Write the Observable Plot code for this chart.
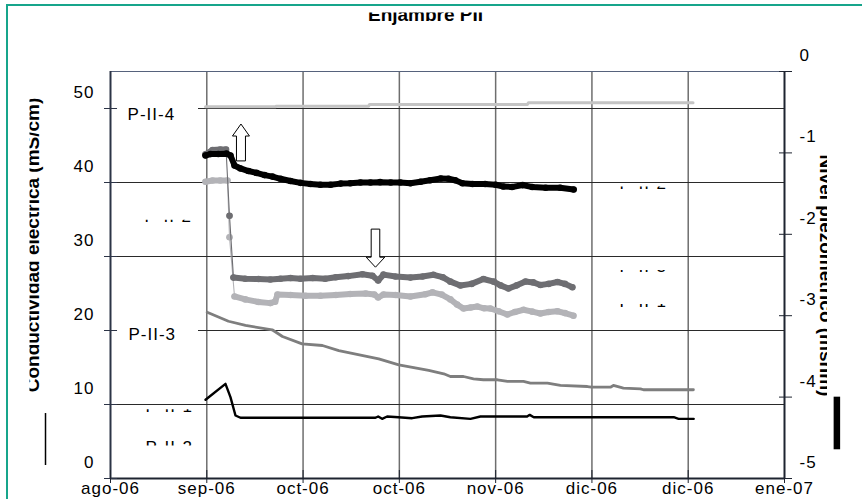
<!DOCTYPE html>
<html><head><meta charset="utf-8">
<script src="https://cdn.jsdelivr.net/npm/d3@7"></script>
<script src="https://cdn.jsdelivr.net/npm/@observablehq/plot@0.6"></script>
<style>
html,body{margin:0;padding:0;background:#fff;overflow:hidden}
#wrap{position:relative;width:862px;height:499px;overflow:hidden}
#wrap svg{position:absolute;left:0;top:0}
#border{position:absolute;left:6px;top:4px;width:900px;height:600px;border-left:2px solid #17a58b;border-top:2px solid #17a58b;pointer-events:none}
svg text{letter-spacing:1px}
</style></head><body><div id="wrap"><div id="border"></div></div>
<script>
// ---- axes / tick labels ----
const xLabels = ["ago-06","sep-06","oct-06","oct-06","nov-06","dic-06","dic-06","ene-07"];
const xTicks = xLabels.map((_, i) => i);
const leftTicks = [0, 10, 20, 30, 40, 50];
const rightTicks = [0, -1, -2, -3, -4, -5];
const leftMax = 55;      // top of left axis corresponds to 0 on right axis
const rightMin = -5;     // bottom of right axis corresponds to 0 on left axis
const toLeft = r => leftMax * (1 - r / rightMin);

const chartTitle = "Enjambre PII";
const leftTitle = "Conductividad eléctrica (mS/cm)";
const rightTitle = "Nivel piezométrico (msnm)";

// ---- conductivity series (left axis), x in axis-tick units ----
const condBlack = [[0.987,43.65],[1.04,43.85],[1.12,43.85],[1.205,43.9],[1.246,43.65],[1.288,42.3],[1.35,41.9],[1.433,41.55],[1.516,41.3],[1.6,41.0],[1.682,40.8],[1.765,40.5],[1.869,40.2],[1.973,39.95],[2.077,39.8],[2.18,39.7],[2.285,39.7],[2.39,39.85],[2.49,39.9],[2.596,40.0],[2.7,40.0],[2.8,40.05],[2.91,40.0],[3.01,40.0],[3.115,39.9],[3.22,40.1],[3.32,40.3],[3.43,40.55],[3.51,40.5],[3.58,40.3],[3.655,39.9],[3.76,39.8],[3.89,39.8],[4.0,39.7],[4.08,39.45],[4.17,39.4],[4.28,39.65],[4.38,39.4],[4.52,39.3],[4.67,39.3],[4.81,39.05]];
const condMid = [[0.987,43.8],[1.06,44.4],[1.14,44.45],[1.2,44.45],[1.236,35.5],[1.277,27.15],[1.4,27.0],[1.537,26.95],[1.66,26.9],[1.765,27.0],[1.87,27.1],[1.973,27.0],[2.1,27.1],[2.23,27.0],[2.34,27.2],[2.47,27.35],[2.617,27.6],[2.72,27.4],[2.78,26.75],[2.835,27.55],[2.96,27.3],[3.115,27.15],[3.24,27.3],[3.354,27.53],[3.45,27.2],[3.53,26.6],[3.634,26.08],[3.75,26.3],[3.873,26.96],[3.98,26.6],[4.05,26.1],[4.133,25.68],[4.22,26.1],[4.31,26.62],[4.39,26.5],[4.465,26.15],[4.55,26.3],[4.642,26.55],[4.72,26.3],[4.797,25.85]];
const condLight = [[0.987,40.1],[1.06,40.27],[1.14,40.27],[1.215,40.27],[1.236,32.6],[1.288,24.6],[1.4,24.2],[1.537,23.85],[1.66,23.7],[1.71,23.9],[1.734,24.85],[1.87,24.8],[2.025,24.7],[2.18,24.7],[2.34,24.8],[2.49,24.93],[2.65,25.0],[2.74,24.86],[2.78,24.46],[2.835,24.86],[2.96,24.8],[3.115,24.6],[3.27,24.9],[3.344,25.15],[3.44,24.85],[3.53,24.2],[3.6,23.5],[3.666,22.97],[3.74,23.1],[3.811,23.24],[3.88,23.0],[3.946,22.97],[4.03,22.6],[4.122,22.16],[4.2,22.5],[4.289,22.8],[4.38,22.55],[4.465,22.3],[4.55,22.5],[4.642,22.6],[4.72,22.35],[4.808,22.0]];

// ---- piezometric level series (right axis) ----
const levelP4 = [[0.987,-0.434],[1.713,-0.434],[1.72,-0.427],[2.68,-0.427],[2.69,-0.405],[4.33,-0.405],[4.34,-0.385],[6.05,-0.385]];
const levelP3 = [[1.004,-2.957],[1.225,-3.068],[1.402,-3.12],[1.679,-3.173],[1.786,-3.256],[1.99,-3.346],[2.201,-3.366],[2.371,-3.428],[2.786,-3.53],[2.994,-3.603],[3.305,-3.673],[3.461,-3.714],[3.53,-3.747],[3.666,-3.747],[3.77,-3.775],[3.873,-3.787],[4.019,-3.787],[4.123,-3.808],[4.289,-3.808],[4.361,-3.829],[4.538,-3.829],[4.673,-3.857],[4.953,-3.87],[4.995,-3.878],[5.192,-3.878],[5.223,-3.857],[5.327,-3.89],[5.504,-3.898],[5.535,-3.91],[6.054,-3.91]];
const levelP1 = [[0.987,-4.033],[1.194,-3.837],[1.246,-4.001],[1.298,-4.226],[1.35,-4.254],[2.752,-4.254],[2.78,-4.238],[2.821,-4.267],[2.873,-4.238],[2.99,-4.247],[3.133,-4.259],[3.237,-4.238],[3.427,-4.226],[3.53,-4.247],[3.738,-4.267],[3.842,-4.238],[4.327,-4.238],[4.354,-4.218],[4.396,-4.247],[5.85,-4.247],[5.9,-4.267],[6.057,-4.267]];

// ---- annotations (data units) ----
const seriesLabels = [{label:"P-II-4", t:0.177, v:48.5}, {label:"P-II-3", t:0.187, v:18.78}];
const labelBoxes = [{t1:0.073, t2:0.914, v1:47.6, v2:51.1}, {t1:0.073, t2:0.914, v1:17.84, v2:21.35}];
const hiddenLabels = ["P-II-2","P-II-1","P-II-2","P-II-2","P-II-3","P-II-1"];
const hiddenPos = [{t:0.353,v:34.6},{t:0.363,v:8.99},{t:0.363,v:3.49},{t:5.286,v:39.1},{t:5.286,v:27.84},{t:5.286,v:23.24}];
const hiddenShown = ["bottom","bottom","top","bottom","bottom","bottom"];
const upArrow = [{t:1.355, v:42.97}];
const downArrow = [{t:2.752, v:33.65}];
const legendBar = [{t:7.544, v1:10.99, v2:3.88}];
const legendLine = [{t:-0.675, v1:8.78, v2:1.76}];

// ---- build ----
const L = a => a.map(d => ({t: d[0], v: d[1]}));
const R = a => a.map(d => ({t: d[0], v: toLeft(d[1])}));
function segments(rows) { // break the thick chain where the series jumps
  let s = 0;
  return rows.map((d, i) => { if (i > 0 && Math.abs(d.v - rows[i-1].v) > 3) s++; return {...d, seg: s}; });
}
function blockArrow(bw, hw, hl) {
  return {draw(context, l) {
    context.moveTo(-bw, 0); context.lineTo(-bw, hl - l); context.lineTo(-hw, hl - l);
    context.lineTo(0, -l); context.lineTo(hw, hl - l); context.lineTo(bw, hl - l);
    context.lineTo(bw, 0); context.closePath();
  }};
}
function dotted(rows, color) {
  const s = segments(rows);
  return [
    Plot.line(s, {x: "t", y: "v", stroke: color, strokeWidth: 1.1}),
    Plot.line(s, {x: "t", y: "v", z: "seg", stroke: color, strokeWidth: 6, strokeLinecap: "round", strokeLinejoin: "round"}),
    Plot.dot(s, {x: "t", y: "v", r: 3.3, fill: color})
  ];
}
const hidden = hiddenLabels.map((label, i) => ({label, ...hiddenPos[i], shown: hiddenShown[i]}));
const font = "'Liberation Sans', Arial, sans-serif";
const fmtRight = d => String(Math.round(rightMin * (1 - d / leftMax)));

const chart = Plot.plot({
  width: 862, height: 499,
  marginLeft: 110, marginRight: 78, marginTop: 71, marginBottom: 21,
  style: {fontFamily: font, fontSize: "17px", color: "#000", background: "transparent", overflow: "visible"},
  x: {domain: [0, 7], axis: null},
  y: {domain: [0, leftMax], axis: null},
  marks: [
    Plot.ruleX(xTicks.slice(1, -1), {stroke: "#6e6e6e", strokeWidth: 1.5}),
    Plot.ruleY(leftTicks.slice(1), {stroke: "#2a2a2a", strokeWidth: 1.2}),
    Plot.rect(labelBoxes, {x1: "t1", x2: "t2", y1: "v1", y2: "v2", fill: "white"}),
    Plot.text(seriesLabels, {x: "t", y: "v", text: "label", textAnchor: "start", lineAnchor: "bottom", fontSize: 17, fill: "#000"}),
    Plot.text(hidden, {x: "t", y: "v", text: "label", textAnchor: "start", lineAnchor: "bottom", fontSize: 17, fill: "#000", ariaLabel: d => "hidden-" + d.shown}),
    Plot.line(R(levelP4), {x: "t", y: "v", stroke: "#c4c4c4", strokeWidth: 3}),
    Plot.line(R(levelP3), {x: "t", y: "v", stroke: "#7e7e7e", strokeWidth: 2.8}),
    Plot.line(R(levelP1), {x: "t", y: "v", stroke: "#000", strokeWidth: 2.4}),
    ...dotted(L(condLight), "#b3b3b7"),
    ...dotted(L(condMid), "#6e6e72"),
    ...dotted(L(condBlack), "#000"),
    Plot.vector(upArrow, {x: "t", y: "v", length: 36.5, rotate: 0, anchor: "start", shape: blockArrow(4.5, 8.5, 12), fill: "white", stroke: "#000", strokeWidth: 1}),
    Plot.vector(downArrow, {x: "t", y: "v", length: 37.7, rotate: 180, anchor: "start", shape: blockArrow(4.3, 9.3, 10), fill: "white", stroke: "#000", strokeWidth: 1}),
    Plot.ruleX(legendBar, {x: "t", y1: "v1", y2: "v2", stroke: "#000", strokeWidth: 6.5}),
    Plot.ruleX(legendLine, {x: "t", y1: "v1", y2: "v2", stroke: "#000", strokeWidth: 1.5}),
    // frame / axis lines
    Plot.ruleY([leftMax], {stroke: "#56627c", strokeWidth: 1}),
    Plot.ruleY([0], {stroke: "#1e2430", strokeWidth: 2}),
    Plot.ruleX([0], {stroke: "#2c3446", strokeWidth: 2}),
    Plot.ruleX([xTicks.length - 1], {stroke: "#1e2430", strokeWidth: 2}),
    // ticks
    Plot.axisY(leftTicks, {anchor: "left", tickSize: 13, dx: 7, tickFormat: () => "", label: null, stroke: "#2c3446"}),
    Plot.axisY(leftTicks, {anchor: "left", tickSize: 0, tickPadding: 16, dy: -16, fontSize: 17, label: null}),
    Plot.axisY(rightTicks.map(toLeft), {anchor: "right", tickSize: 13, dx: -6, tickFormat: () => "", label: null, stroke: "#1e2430"}),
    Plot.axisY(rightTicks.map(toLeft), {anchor: "right", tickSize: 0, tickPadding: 15, dy: -16, tickFormat: fmtRight, fontSize: 17, label: null}),
    Plot.axisX(xTicks, {anchor: "bottom", tickSize: 13, dy: -8, tickFormat: () => "", label: null, stroke: "#1e2430"}),
    Plot.axisX(xTicks, {anchor: "bottom", tickSize: 0, tickPadding: 3, tickFormat: i => xLabels[i], fontSize: 17, label: null}),
    // titles
    Plot.text([chartTitle], {frameAnchor: "top", textAnchor: "middle", dx: -22, dy: -51, lineAnchor: "bottom", fontSize: 19, fontWeight: "bold", ariaLabel: () => "chart-title"}),
    Plot.text([leftTitle], {frameAnchor: "left", textAnchor: "middle", rotate: -90, dx: -71.5, dy: -30, lineAnchor: "bottom", fontSize: 19, fontWeight: "bold", ariaLabel: () => "left-title"}),
    Plot.text([rightTitle], {frameAnchor: "right", textAnchor: "middle", rotate: 90, dx: 35, dy: 0.5, lineAnchor: "bottom", fontSize: 19, fontWeight: "bold", ariaLabel: () => "right-title"})
  ]
});
document.getElementById("wrap").prepend(chart);

// clip partially hidden texts (in each text's own coordinates: baseline at y = 0)
const svg = d3.select(chart);
const defs = svg.append("defs");
let cid = 0;
function clip(el, y0, y1) {
  const id = "txtclip" + (cid++);
  defs.append("clipPath").attr("id", id).attr("clipPathUnits", "userSpaceOnUse")
    .append("rect").attr("x", -3000).attr("y", y0).attr("width", 6000).attr("height", y1 - y0);
  d3.select(el).attr("clip-path", `url(#${id})`);
}
function textsWith(label) {
  return svg.selectAll("text").filter(function() { return this.getAttribute("aria-label") === label; });
}
textsWith("chart-title").each(function() { clip(this, -8, 8); }).style("letter-spacing", "0px");
textsWith("left-title").each(function() { clip(this, -9.5, 8); }).style("letter-spacing", "0px");
textsWith("right-title").each(function() { clip(this, -7.5, 8); }).style("letter-spacing", "0px");
textsWith("hidden-bottom").each(function() { clip(this, -2.6, 0.8); });
textsWith("hidden-top").each(function() { clip(this, -12.8, -7.2); });
</script>
</body></html>
